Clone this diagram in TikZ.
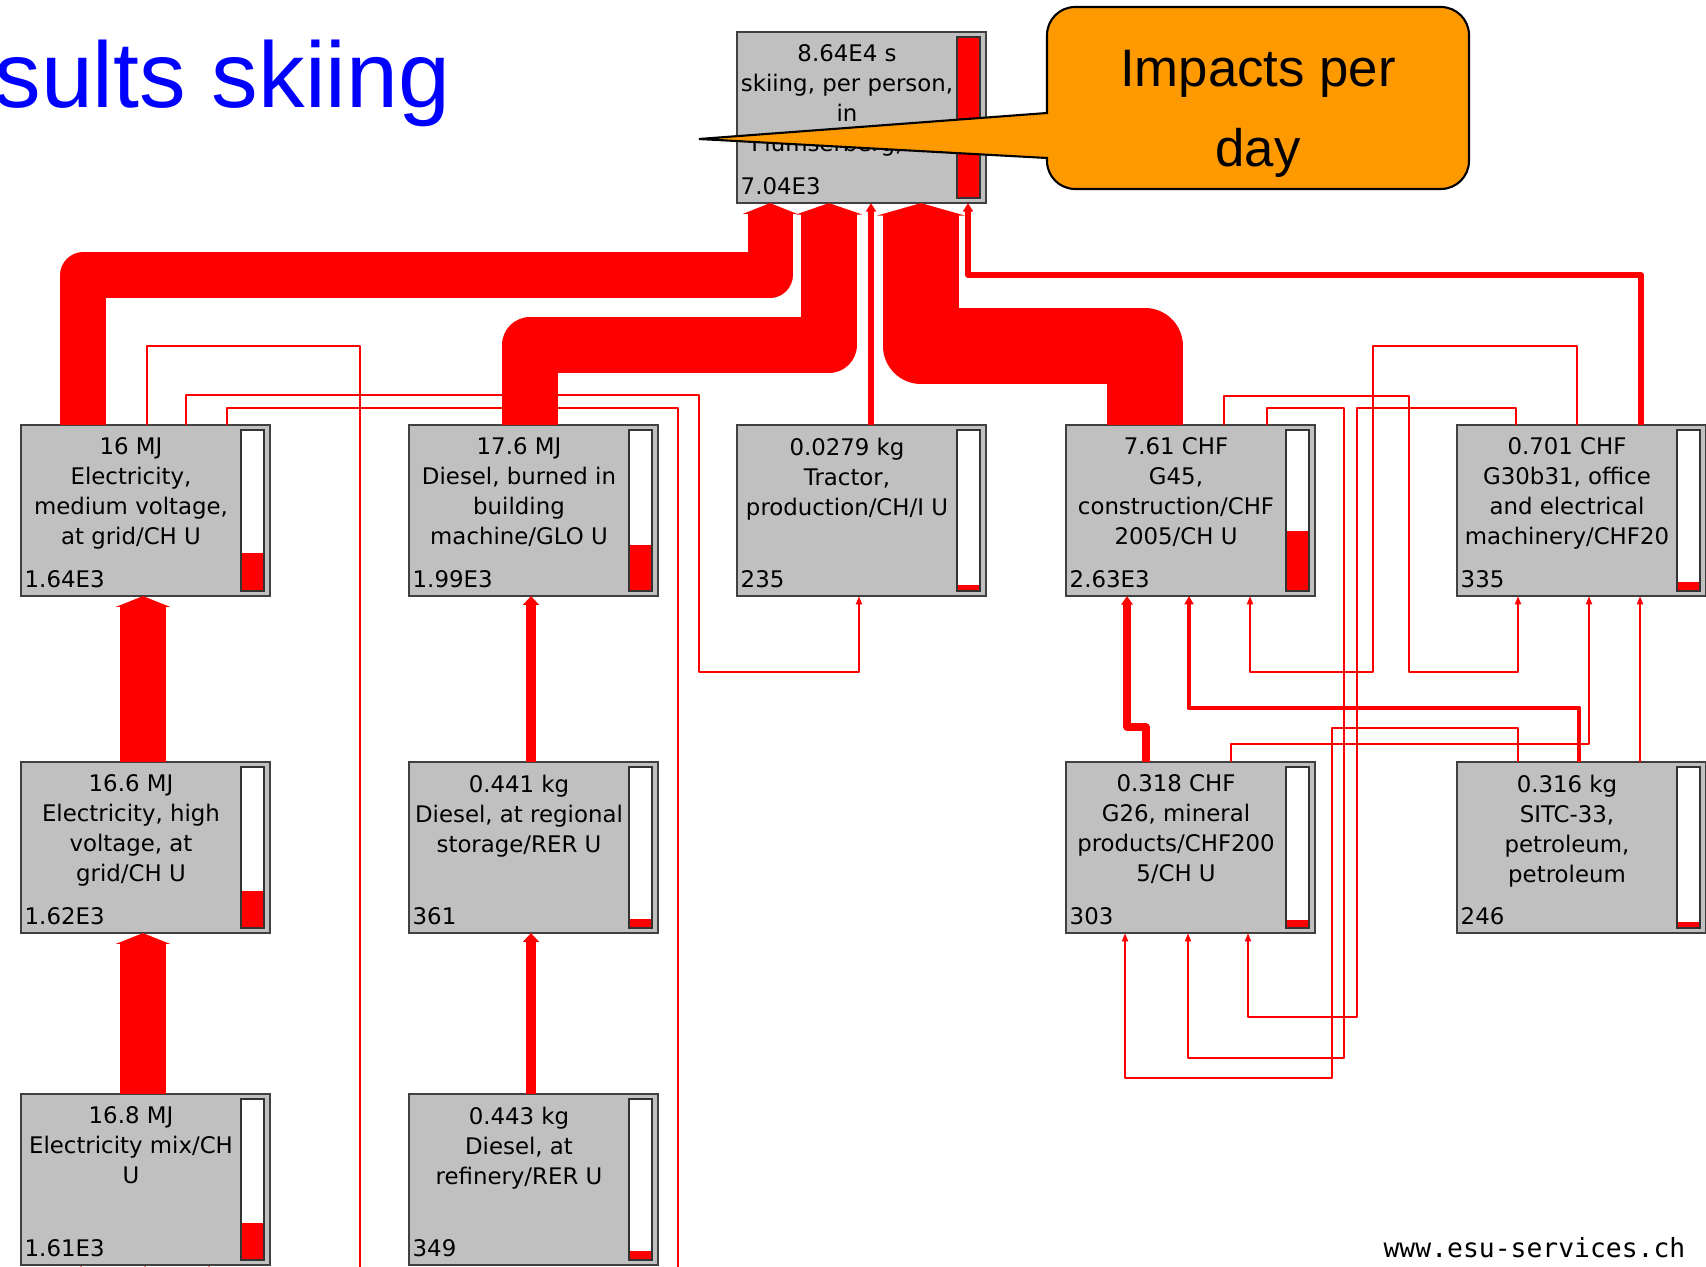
\documentclass[tikz,border=0pt]{standalone}
\usepackage{fontspec}
\usetikzlibrary{calc, arrows.meta}

\newfontfamily\boxfont{DejaVu Sans}
\newfontfamily\calloutfont{Liberation Sans}
\newfontfamily\webfont{DejaVu Sans Mono}

\definecolor{boxgrey}{RGB}{192,192,192}
\definecolor{flowred}{RGB}{255,0,0}
\definecolor{calloutorange}{RGB}{255,153,0}
\definecolor{titleblue}{RGB}{0,0,255}

\tikzset{
  procbox/.style={draw=black!75, line width=0.7pt, fill=boxgrey, anchor=north west,
    minimum width=2.49cm, minimum height=1.71cm, inner sep=0pt, outer sep=0pt},
  proctext/.style={font=\boxfont\fontsize{6.5}{8.54}\selectfont, align=center,
    anchor=north, inner sep=0pt},
  procvalue/.style={font=\boxfont\fontsize{6.5}{8.54}\selectfont, anchor=base west, inner sep=0pt},
  impactbar/.style={draw=black!80, line width=0.5pt, fill=white},
  flow/.style={draw=flowred, line join=round, -{Triangle[length=2.3pt 0.06, width=1pt 1.12]}},
  thinflow/.style={flow, line width=0.6pt},
}

% box with text, score and impact bar: name, top left, text, score, share
\newcommand{\procbox}[5]{%
  \node[procbox] (#1) at (#2) {};
  \node[proctext] (#1-text) at ($(#1.north west)+(110,12)$) {#3};
  \node[procvalue] (#1-value) at ($(#1.south west)+(3,-9)$) {#4};
  \draw[impactbar] ($(#1.north east)+(-29,5)$) rectangle ($(#1.south east)+(-6,-5)$);
  \fill[flowred] ($(#1.south east)+(-7,-6)$) rectangle ($(#1.south east)+(-28,{-6-159*#5})$);
}

\begin{document}
\begin{tikzpicture}[x=0.01cm, y=-0.01cm]
  \path[use as bounding box] (0,0) rectangle (1706,1267);
  \clip (0,0) rectangle (1706,1267);

  % Title, cut by the slide edge
  \node[anchor=base east, inner sep=0pt, text=titleblue,
    font=\calloutfont\fontsize{26.5}{32}\selectfont] (title) at (451,108) {sults skiing};

  % Process boxes
  \procbox{root}{737,32}{8.64E4 s\\skiing, per person,\\in\\Flumserberg, CH}{7.04E3}{1}
  \procbox{elecMV}{21,425}{16 MJ\\Electricity,\\medium voltage,\\at grid/CH U}{1.64E3}{0.233}
  \procbox{dieselBurn}{409,425}{17.6 MJ\\Diesel, burned in\\building\\machine/GLO U}{1.99E3}{0.283}
  \procbox{tractor}{737,425}{0.0279 kg\\Tractor,\\production/CH/I U}{235}{0.033}
  \procbox{constr}{1066,425}{7.61 CHF\\G45,\\construction/CHF\\2005/CH U}{2.63E3}{0.374}
  \procbox{office}{1457,425}{0.701 CHF\\G30b31, office\\and electrical\\machinery/CHF20}{335}{0.048}
  \procbox{elecHV}{21,762}{16.6 MJ\\Electricity, high\\voltage, at\\grid/CH U}{1.62E3}{0.230}
  \procbox{dieselReg}{409,762}{0.441 kg\\Diesel, at regional\\storage/RER U}{361}{0.051}
  \procbox{mineral}{1066,762}{0.318 CHF\\G26, mineral\\products/CHF200\\5/CH U}{303}{0.043}
  \procbox{petro}{1457,762}{0.316 kg\\SITC-33,\\petroleum,\\petroleum}{246}{0.035}
  \procbox{elecMix}{21,1094}{16.8 MJ\\Electricity mix/CH\\U}{1.61E3}{0.229}
  \procbox{dieselRef}{409,1094}{0.443 kg\\Diesel, at\\refinery/RER U}{349}{0.050}

  % Free ends below the slide
  \coordinate (outA) at (360,1300);
  \coordinate (outB) at (678,1300);
  \coordinate (inA) at (81,1300);
  \coordinate (inB) at (145,1300);
  \coordinate (inC) at (209,1300);

  % Main flows into skiing
  \draw[flow, line width=12.8pt] (elecMV.north -| 83,0) -- (83,275) -- (770,275) -- (root.south -| 770,0);
  \draw[flow, line width=15.9pt] (dieselBurn.north -| 530,0) -- (530,345) -- (829,345) -- (root.south -| 829,0);
  \draw[flow, line width=1.6pt] (tractor.north -| 871,0) -- (root.south -| 871,0);
  \draw[flow, line width=21.6pt] (constr.north -| 1145,0) -- (1145,346) -- (921,346) -- (root.south -| 921,0);
  \draw[flow, line width=1.6pt] (office.north -| 1641,0) -- (1641,275) -- (968,275) -- (root.south -| 968,0);

  % Electricity and diesel chains
  \draw[flow, line width=12.8pt] (elecHV.north -| 143,0) -- (elecMV.south -| 143,0);
  \draw[flow, line width=12.8pt] (elecMix.north -| 143,0) -- (elecHV.south -| 143,0);
  \draw[flow, line width=3.1pt] (dieselReg.north -| 531,0) -- (dieselBurn.south -| 531,0);
  \draw[flow, line width=3.1pt] (dieselRef.north -| 531,0) -- (dieselReg.south -| 531,0);
  \draw[thinflow] (inA) -- (elecMix.south -| 81,0);
  \draw[thinflow] (inB) -- (elecMix.south -| 145,0);
  \draw[thinflow] (inC) -- (elecMix.south -| 209,0);

  % Electricity to other processes
  \draw[thinflow] (elecMV.north -| 147,0) -- (147,346) -- (360,346) -- (outA);
  \draw[thinflow] (elecMV.north -| 186,0) -- (186,395) -- (699,395) -- (699,672) -- (859,672) -- (tractor.south -| 859,0);
  \draw[thinflow] (elecMV.north -| 227,0) -- (227,408) -- (678,408) -- (outB);

  % Loops between the sector processes
  \draw[thinflow] (constr.north -| 1224,0) -- (1224,396) -- (1409,396) -- (1409,672) -- (1518,672) -- (office.south -| 1518,0);
  \draw[thinflow] (office.north -| 1577,0) -- (1577,346) -- (1373,346) -- (1373,672) -- (1250,672) -- (constr.south -| 1250,0);
  \draw[flow, line width=2pt] (mineral.north -| 1146,0) -- (1146,727) -- (1127,727) -- (constr.south -| 1127,0);
  \draw[flow, line width=1.4pt] (petro.north -| 1579,0) -- (1579,708) -- (1189,708) -- (constr.south -| 1189,0);
  \draw[thinflow] (mineral.north -| 1231,0) -- (1231,744) -- (1589,744) -- (office.south -| 1589,0);
  \draw[thinflow] (petro.north -| 1640,0) -- (office.south -| 1640,0);
  \draw[thinflow] (petro.north -| 1518,0) -- (1518,728) -- (1332,728) -- (1332,1078) -- (1125,1078) -- (mineral.south -| 1125,0);
  \draw[thinflow] (constr.north -| 1267,0) -- (1267,408) -- (1344,408) -- (1344,1058) -- (1188,1058) -- (mineral.south -| 1188,0);
  \draw[thinflow] (office.north -| 1516,0) -- (1516,408) -- (1357,408) -- (1357,1017) -- (1248,1017) -- (mineral.south -| 1248,0);

  % Callout
  \draw[fill=calloutorange, line width=0.6pt] (1047,158) -- (699,139) -- (1047,113)
    [rounded corners=8pt] -- (1047,7) -- (1469,7) -- (1469,189) -- (1047,189) [sharp corners] -- cycle;
  \node[anchor=north, inner sep=0pt, align=center,
    font=\calloutfont\fontsize{15}{22.5}\selectfont] (callout) at (1258,50) {Impacts per\\day};

  % Footer
  \node[anchor=base east, inner sep=0pt, font=\webfont\fontsize{7.5}{9}\selectfont]
    (website) at (1686,1257) {www.esu-services.ch};
\end{tikzpicture}
\end{document}
